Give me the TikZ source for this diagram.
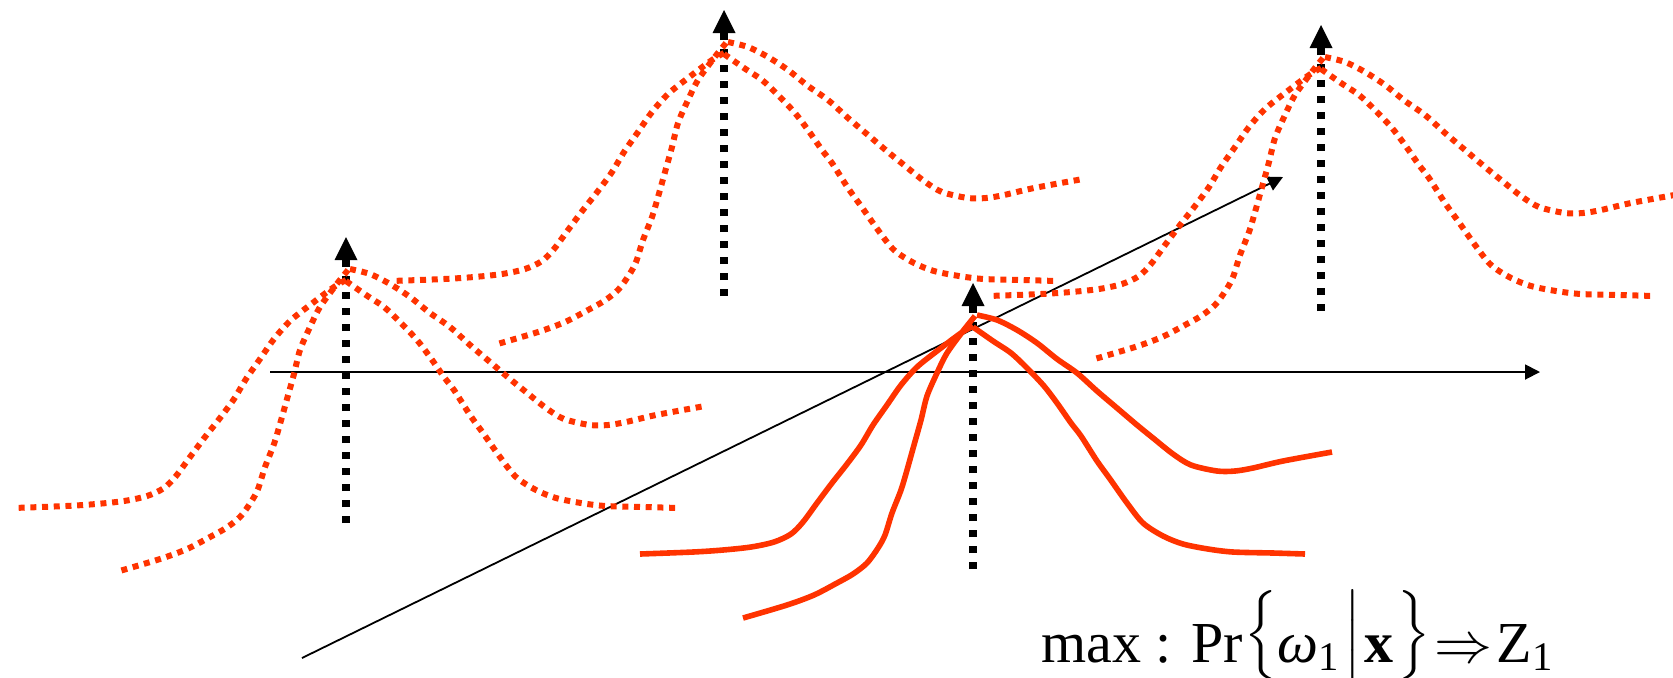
\RequirePackage{fix-cm}
\documentclass[tikz,border=0pt]{standalone}
\usepackage{amsmath}
\usepackage{fontspec}
\setmainfont{Liberation Serif}
\usepackage{xcolor}
\usepackage{tikz}
\usetikzlibrary{arrows.meta}

\definecolor{curvered}{RGB}{255,51,0}

\tikzset{
  bump/.pic={
    % section along the horizontal axis
    \draw[pic actions] plot[smooth] coordinates {(0,43) (-12,50) (-36,68) (-56,84) (-72,102) (-86,122) (-100,142) (-112,162) (-126,181) (-141,200) (-156,220) (-170,239) (-182,251) (-199,259) (-222,264) (-250,267) (-280,269) (-333,271)};
    \draw[pic actions] plot[smooth] coordinates {(0,44) (20,58) (38,70) (54,85) (71,103) (84,120) (98,140) (108,153) (124,178) (137,196) (154,220) (170,240) (190,253) (210,261) (235,266) (260,269) (300,270) (332,271)};
    % section along the diagonal axis
    \draw[pic actions] plot[smooth] coordinates {(2,33) (-10,48) (-26,70) (-36,90) (-46,113) (-52,137) (-59,162) (-66,187) (-72,207) (-81,230) (-88,252) (-95,265) (-106,280) (-120,291) (-136,300) (-159,312) (-186,322) (-230,335)};
    \draw[pic actions] plot[smooth] coordinates {(4,32) (24,37) (44,47) (64,60) (84,76) (104,90) (124,108) (144,125) (164,142) (180,155) (200,171) (218,182) (244,188) (262,188) (280,185) (310,178) (359,169)};
  }
}

\begin{document}
\begin{tikzpicture}[x=0.5pt, y=-0.5pt,
    axis/.style={line width=0.9pt, -{Triangle[length=7.5pt, width=7.5pt]}},
    peak/.style={line width=3.65pt, dash pattern=on 3.65pt off 4.35pt, -{Triangle[length=11.5pt, width=11.5pt, line width=0pt]}},
    dotcurve/.style={draw=curvered, line width=3pt, dash pattern=on 3pt off 2.85pt},
    solidcurve/.style={draw=curvered, line width=2.8pt},
    formula/.style={anchor=base west, inner sep=0pt, font=\fontsize{29}{34}\selectfont}]
    \useasboundingbox (0,0) rectangle (1673,677);

    % Axes
    \coordinate (xstart) at (270,372);
    \coordinate (xend) at (1540,372);
    \coordinate (zstart) at (302,658);
    \coordinate (zend) at (1283,177);
    \draw[axis] (xstart) -- (xend);
    \draw[axis] (zstart) -- (zend);

    % Peaks
    \coordinate (tipA) at (346,237);
    \coordinate (footA) at (346,523);
    \coordinate (tipB) at (724,10);
    \coordinate (footB) at (724,296);
    \coordinate (tipC) at (973,283);
    \coordinate (footC) at (973,569);
    \coordinate (tipD) at (1321,25);
    \coordinate (footD) at (1321,311);
    \draw[peak] (footA) -- (tipA);
    \draw[peak] (footB) -- (tipB);
    \draw[peak] (footC) -- (tipC);
    \draw[peak] (footD) -- (tipD);

    % Densities
    \pic[dotcurve] at (tipA) {bump};
    \pic[dotcurve] at (tipB) {bump};
    \pic[dotcurve] at (tipD) {bump};
    \pic[solidcurve] at (tipC) {bump};

    % Decision rule
    \node[formula] (rule) at (1041,662) {max : Pr\kern1pt\raisebox{6pt}{$\bigl\{$}{\itshape ω}$_{\text{1}}$\kern2pt\raisebox{6pt}{$\big|$}\kern2pt\textbf{x}\kern2pt\raisebox{6pt}{$\bigr\}$}\kern2pt$\Rightarrow$\kern2pt Z$_{\text{1}}$};
\end{tikzpicture}
\end{document}
